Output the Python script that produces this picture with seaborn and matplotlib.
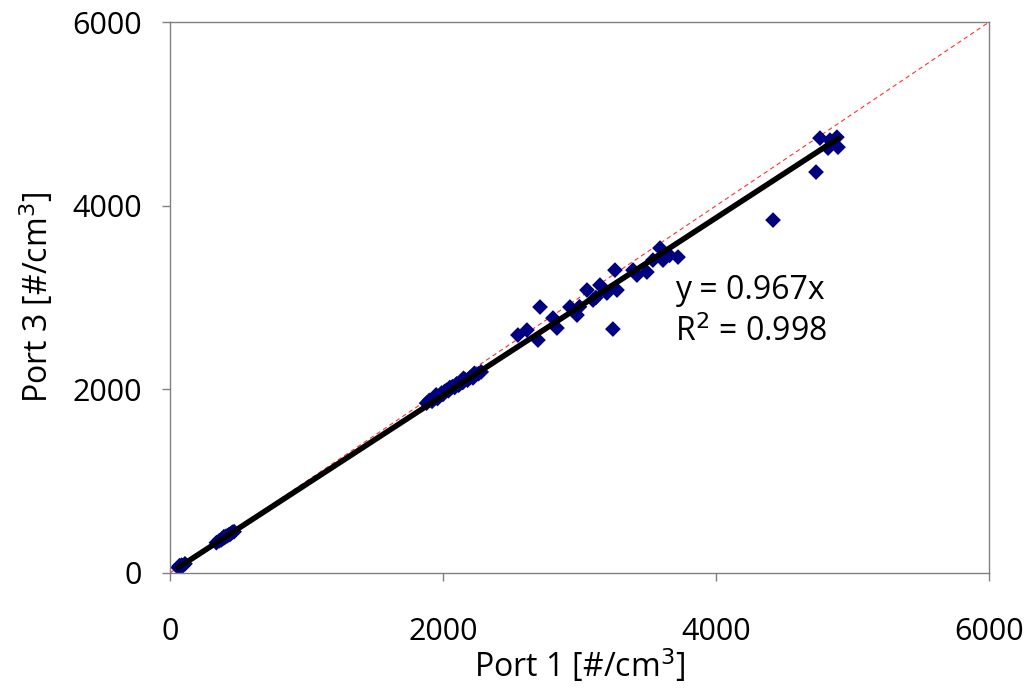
import matplotlib
matplotlib.use("Agg")
import matplotlib.pyplot as plt
import seaborn as sns
import numpy as np
import pandas as pd

# ---- data ----
port1 = [60, 75, 85, 95, 110, 70,
         340, 360, 375, 390, 400, 410, 420, 430, 440, 450, 460, 470, 380, 395,
         1880, 1900, 1920, 1940, 1960, 1975, 1990, 2000, 2010, 2025, 2040, 2055, 2070,
         2085, 2100, 2115, 2130, 2145, 2160, 2180, 2200, 2220, 2240, 2260, 2280,
         1950, 2050, 2150, 2230,
         2711, 3245, 2549, 2615, 2696, 2806, 2835, 2930, 2982, 3055, 3099, 3150, 3201,
         3260, 3275, 3392, 3421, 3494, 3538, 3590, 3612, 3722, 3660, 3000, 3120,
         4733, 4418, 4762, 4821, 4886, 4894, 4835]
port3 = [60, 70, 85, 80, 100, 80,
         330, 350, 360, 380, 385, 400, 405, 415, 420, 435, 445, 450, 370, 395,
         1850, 1880, 1870, 1910, 1900, 1930, 1960, 1945, 1975, 1990, 1985, 2010, 2030,
         2020, 2060, 2045, 2080, 2075, 2110, 2100, 2130, 2125, 2160, 2170, 2190,
         1940, 2020, 2120, 2175,
         2897, 2657, 2592, 2646, 2537, 2777, 2668, 2897, 2809, 3082, 2973, 3136, 3049,
         3299, 3082, 3299, 3245, 3278, 3408, 3539, 3408, 3441, 3460, 2900, 3000,
         4367, 3844, 4737, 4628, 4747, 4638, 4715]
slope = 0.967
r2 = 0.998
ticks = [0, 2000, 4000, 6000]

df = pd.DataFrame({"Port 1": port1, "Port 3": port3})

sns.set_theme(style="white")
plt.rcParams['font.family'] = ['Open Sans', 'DejaVu Sans']
plt.rcParams['text.color'] = 'black'
plt.rcParams['axes.labelcolor'] = 'black'
plt.rcParams['xtick.color'] = 'black'
plt.rcParams['ytick.color'] = 'black'

fig = plt.figure(figsize=(10.32, 6.92), dpi=100)
ax = fig.add_axes([0.1647, 0.172, 0.7936, 0.796])

# 1:1 reference line
ax.plot([ticks[0], ticks[-1]], [ticks[0], ticks[-1]], color="#ff3030",
        lw=0.8, ls=(0, (4, 3)), zorder=1)

sns.scatterplot(data=df, x="Port 1", y="Port 3", marker="D", s=64,
                color="#000080", edgecolor="none", ax=ax, zorder=2)

# fitted line through origin
xf = np.array([min(port1), max(port1)])
sns.lineplot(x=xf, y=slope * xf, color="black", lw=4, ax=ax, zorder=3)

ax.set_xlim(ticks[0], ticks[-1])
ax.set_ylim(ticks[0], ticks[-1])
ax.set_xticks(ticks)
ax.set_yticks(ticks)
ax.tick_params(axis="both", which="both", direction="out", length=6, width=1,
               color="#808080", labelcolor="black", labelsize=22, bottom=True, left=True)
ax.tick_params(axis="y", pad=14)
ax.tick_params(axis="x", pad=26)
for sp in ax.spines.values():
    sp.set_color("#808080")
    sp.set_linewidth(1)

ax.set_xlabel("Port 1 [#/cm$^3$]", fontsize=23, labelpad=0)
ax.set_ylabel("Port 3 [#/cm$^3$]", fontsize=23, labelpad=12)

ax.text(3700, 3080, f"y = {slope:.3f}x", fontsize=23, va="center", ha="left")
ax.text(3700, 2615, f"R$^2$ = {r2:.3f}", fontsize=23, va="center", ha="left")

fig.savefig("out.png", dpi=100)
